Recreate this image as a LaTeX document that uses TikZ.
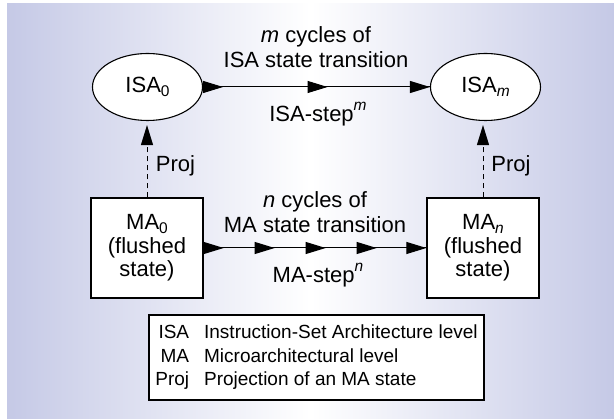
\documentclass[tikz,border=0pt]{standalone}
\usepackage{fontspec}
\setmainfont{Liberation Sans}
\usetikzlibrary{arrows.meta,decorations.markings,shapes.geometric}
\definecolor{bgedge}{RGB}{197,201,230}

% lowered index and raised exponent in the text font
\newcommand{\lowidx}[1]{\raisebox{-0.18em}{\fontsize{15.5}{15.5}\selectfont #1}}
\newcommand{\highidx}[1]{\raisebox{0.5em}{\fontsize{15.5}{15.5}\selectfont #1}}

\begin{document}
\begin{tikzpicture}[x=1pt,y=-1pt,
  every node/.style={font=\fontsize{22}{25}\selectfont, inner sep=0pt, align=center},
  stateell/.style={draw, shape=ellipse, fill=white, line width=1.1pt,
    minimum width=110pt, minimum height=67pt},
  statebox/.style={draw, rectangle, fill=white, line width=1.3pt,
    minimum width=112pt, minimum height=100pt,
    font=\fontsize{22}{23.5}\selectfont},
  legendbox/.style={draw, rectangle, fill=white, line width=1.3pt,
    minimum width=335pt, minimum height=85pt,
    font=\fontsize{19}{23.5}\selectfont},
  headtip/.tip={Triangle[length=20pt,width=12pt]},
  steparrow/.style={line width=1pt, postaction={decorate}},
  projarrow/.style={line width=1pt, dash pattern=on 5pt off 4pt,
    -{Triangle[length=20pt,width=12pt]}, shorten >=4pt},
]
\useasboundingbox (0,0) rectangle (614,419);
\fill[white] (0,0) rectangle (614,419);
\shade[left color=bgedge, right color=bgedge, middle color=white]
  (7,4) rectangle (614,419);

% states
\node[stateell] (isa0) at (147.5,87) {ISA\lowidx{0}};
\node[stateell] (isam) at (485.5,87) {ISA\lowidx{\itshape m}};
\node[statebox] (ma0) at (147,248) {MA\lowidx{0}\\(flushed\\state)};
\node[statebox] (man) at (483,248) {MA\lowidx{\itshape n}\\(flushed\\state)};

% ISA transitions
\draw[steparrow, decoration={markings,
    mark=at position 20pt with {\arrow{headtip}},
    mark=at position 124.5pt with {\arrow{headtip}},
    mark=at position 1 with {\arrow{headtip}}}] (isa0) -- (isam);

% MA transitions
\draw[steparrow, decoration={markings,
    mark=at position 20pt with {\arrow{headtip}},
    mark=at position 71pt with {\arrow{headtip}},
    mark=at position 122pt with {\arrow{headtip}},
    mark=at position 173pt with {\arrow{headtip}},
    mark=at position 1 with {\arrow{headtip}}}] (ma0) -- (man);

% projections
\draw[projarrow] (ma0.north) -- (ma0.north |- isa0.south);
\draw[projarrow] (man.north) -- (man.north |- isam.south);

% labels
\node (isalbl) at (316,47) {\itshape m\upshape{} cycles of\\ISA state transition};
\node (isastep) at (318,114) {ISA-step\highidx{\itshape m}};
\node (malbl) at (315,212.5) {\itshape n\upshape{} cycles of\\MA state transition};
\node (mastep) at (318,275) {MA-step\highidx{\itshape n}};
\node (proj0) at (175.5,166) {Proj};
\node (projn) at (511,166) {Proj};

% legend
\node[legendbox] (legend) at (316.5,357.5) {%
  \begin{tabular}{@{}r@{\hspace{15pt}}l@{}}
    ISA & Instruction-Set Architecture level\\
    MA & Microarchitectural level\\
    Proj & Projection of an MA state
  \end{tabular}};
\end{tikzpicture}
\end{document}
